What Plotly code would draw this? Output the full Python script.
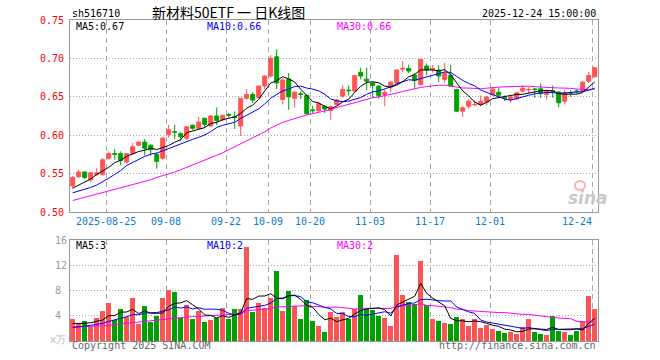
import plotly.graph_objects as go
import pandas as pd

# ---------------- data ----------------
holidays = ["2025-10-01", "2025-10-02", "2025-10-03", "2025-10-06", "2025-10-07", "2025-10-08"]
days = [d.strftime("%Y-%m-%d") for d in pd.bdate_range("2025-08-15", "2025-12-24")
        if d.strftime("%Y-%m-%d") not in holidays]

tick_dates = ["2025-08-25", "2025-09-08", "2025-09-22", "2025-10-09", "2025-10-20",
              "2025-11-03", "2025-11-17", "2025-12-01", "2025-12-24"]
tick_labels = ["2025-08-25", "09-08", "09-22", "10-09", "10-20", "11-03", "11-17", "12-01", "12-24"]

open_ = [0.534, 0.546, 0.552, 0.542, 0.549, 0.549, 0.570, 0.576, 0.576, 0.565,
         0.576, 0.587, 0.591, 0.587, 0.575, 0.570, 0.601, 0.6045, 0.602, 0.596,
         0.613, 0.609, 0.622, 0.612, 0.625, 0.620, 0.627, 0.624, 0.612, 0.648,
         0.653, 0.649, 0.664, 0.677, 0.702, 0.6465, 0.673, 0.648, 0.654, 0.652,
         0.633, 0.632, 0.638, 0.632, 0.640, 0.651, 0.6587, 0.6574, 0.682, 0.673,
         0.668, 0.664, 0.653, 0.663, 0.668, 0.686, 0.687, 0.678, 0.666, 0.690,
         0.6857, 0.6848, 0.6726, 0.678, 0.6596, 0.6313, 0.6378, 0.6395, 0.640, 0.643,
         0.653, 0.656, 0.6487, 0.6465, 0.6474, 0.6574, 0.6591, 0.660, 0.6604, 0.653,
         0.6578, 0.6561, 0.6443, 0.6556, 0.6574, 0.6574, 0.6704, 0.6761]
high = [0.547, 0.555, 0.553, 0.552, 0.557, 0.570, 0.579, 0.582, 0.579, 0.577,
        0.590, 0.592, 0.595, 0.588, 0.577, 0.598, 0.6135, 0.6135, 0.604, 0.612,
        0.614, 0.624, 0.623, 0.626, 0.636, 0.626, 0.629, 0.631, 0.648, 0.660,
        0.656, 0.664, 0.678, 0.704, 0.712, 0.674, 0.681, 0.657, 0.657, 0.652,
        0.638, 0.6435, 0.639, 0.639, 0.6474, 0.6648, 0.6648, 0.678, 0.688, 0.688,
        0.669, 0.6648, 0.6596, 0.6704, 0.6857, 0.6965, 0.692, 0.681, 0.6996, 0.6935,
        0.6913, 0.6913, 0.6943, 0.6913, 0.6604, 0.6378, 0.6474, 0.6457, 0.6517, 0.6517,
        0.6626, 0.6617, 0.6517, 0.6517, 0.657, 0.6648, 0.6626, 0.6617, 0.6674, 0.6587,
        0.6648, 0.6574, 0.6587, 0.6587, 0.6596, 0.6704, 0.6822, 0.6887]
low = [0.531, 0.544, 0.543, 0.539, 0.547, 0.547, 0.568, 0.568, 0.561, 0.563,
       0.575, 0.586, 0.5735, 0.5735, 0.5565, 0.568, 0.5965, 0.595, 0.592, 0.594,
       0.607, 0.607, 0.610, 0.611, 0.613, 0.618, 0.623, 0.608, 0.599, 0.6465,
       0.642, 0.648, 0.660, 0.675, 0.660, 0.640, 0.633, 0.636, 0.647, 0.627,
       0.628, 0.630, 0.629, 0.620, 0.6387, 0.6487, 0.6517, 0.656, 0.6726, 0.6587,
       0.6487, 0.6474, 0.6378, 0.656, 0.666, 0.682, 0.681, 0.6596, 0.6648, 0.6778,
       0.6813, 0.6696, 0.6683, 0.663, 0.630, 0.6235, 0.6343, 0.6378, 0.6378, 0.6387,
       0.6509, 0.6509, 0.6443, 0.6422, 0.6465, 0.6552, 0.6539, 0.6487, 0.6487, 0.6465,
       0.6487, 0.6365, 0.640, 0.650, 0.6539, 0.6561, 0.6683, 0.6748]
close = [0.545, 0.552, 0.545, 0.551, 0.551, 0.568, 0.576, 0.575, 0.567, 0.576,
         0.585, 0.591, 0.583, 0.581, 0.566, 0.596, 0.607, 0.604, 0.598, 0.611,
         0.609, 0.617, 0.614, 0.625, 0.619, 0.626, 0.626, 0.623, 0.648, 0.653,
         0.6457, 0.664, 0.677, 0.700, 0.668, 0.672, 0.650, 0.656, 0.653, 0.628,
         0.632, 0.641, 0.634, 0.637, 0.6457, 0.6596, 0.658, 0.6778, 0.677, 0.6704,
         0.6648, 0.6517, 0.656, 0.669, 0.6848, 0.687, 0.6835, 0.6713, 0.6987, 0.6848,
         0.6865, 0.677, 0.6804, 0.664, 0.6313, 0.6357, 0.6443, 0.640, 0.6443, 0.6496,
         0.660, 0.6522, 0.6483, 0.6496, 0.6552, 0.6609, 0.6596, 0.6596, 0.6543, 0.6574,
         0.6574, 0.6422, 0.6552, 0.6552, 0.6570, 0.6691, 0.6778, 0.6878]
volume = [3.47, 2.67, 3.15, 2.4, 3.68, 4.75, 6.03, 3.3, 5.07, 3.84,
          6.83, 2.67, 5.55, 3.04, 3.95, 6.83, 8.1, 7.79, 3.57, 5.71,
          3.47, 4.8, 2.99, 3.31, 3.68, 5.23, 3.47, 5.07, 5.0, 14.83,
          4.64, 6.03, 5.17, 6.83, 11.15, 4.75, 8.0, 5.55, 3.47, 6.5,
          3.15, 2.35, 1.39, 4.64, 3.79, 4.59, 3.47, 5.01, 7.31, 5.01,
          4.96, 4.0, 3.57, 2.35, 13.6, 7.31, 6.24, 5.92, 12.64, 5.65,
          3.52, 3.2, 2.83, 2.67, 3.84, 3.47, 2.4, 3.52, 2.08, 2.56,
          1.92, 1.55, 1.28, 1.44, 1.12, 2.19, 3.52, 1.39, 1.12, 0.91,
          4.0, 1.6, 1.39, 0.96, 1.6, 3.09, 7.15, 5.07]

# moving-average values at the left edge (their windows start before it)
ma5_head = [0.531, 0.535, 0.539, 0.543]
ma10_head = [0.525, 0.527, 0.529, 0.532, 0.535, 0.539, 0.544, 0.549, 0.554]
ma30_head = [0.515, 0.517, 0.519, 0.521, 0.523, 0.525, 0.527, 0.530, 0.532, 0.534,
             0.536, 0.538, 0.540, 0.542, 0.545, 0.547, 0.550, 0.552, 0.555, 0.558,
             0.561, 0.564, 0.567, 0.570, 0.574, 0.577, 0.581, 0.585, 0.589]
vma5_head = [2.77, 2.77, 2.8, 2.9]
vma10_head = [2.13, 2.2, 2.35, 2.5, 2.6, 2.8, 3.1, 3.3, 3.6]
vma30_head = [2.24, 2.26, 2.28, 2.3, 2.33, 2.4, 2.5, 2.6, 2.7, 2.8,
              2.9, 3.0, 3.1, 3.2, 3.35, 3.5, 3.6, 3.7, 3.75, 3.8,
              3.85, 3.9, 3.95, 4.0, 4.05, 4.1, 4.15, 4.2, 4.3]


def moving_avg(vals, n, head):
    out = list(head)
    for i in range(len(head), len(vals)):
        out.append(sum(vals[i - n + 1:i + 1]) / n)
    return out


ma5 = moving_avg(close, 5, ma5_head)
ma10 = moving_avg(close, 10, ma10_head)
ma30 = moving_avg(close, 30, ma30_head)
vma5 = moving_avg(volume, 5, vma5_head)
vma10 = moving_avg(volume, 10, vma10_head)
vma30 = moving_avg(volume, 30, vma30_head)

# ---------------- styling ----------------
RED = "#ff5454"
GREEN = "#00a000"
GRID = "#a8a8a8"
FRAME = "#999999"
MONO = "DejaVu Sans Mono"
W, H = 660, 360
L, R, T, B = 70, 598, 20, 341


def px(x):
    return (x - L) / (R - L)


def py(y):
    return (B - y) / (B - T)


x = list(range(len(days)))
grid_x = [days.index(d) - 0.37 for d in tick_dates]
vol_colors = [RED if c >= o else GREEN for o, c in zip(open_, close)]

fig = go.Figure()
fig.add_trace(go.Candlestick(
    x=x, open=open_, high=high, low=low, close=close,
    increasing=dict(line=dict(color=RED, width=1), fillcolor=RED),
    decreasing=dict(line=dict(color=GREEN, width=1), fillcolor=GREEN),
    whiskerwidth=0, hoverinfo="skip", showlegend=False, xaxis="x", yaxis="y"))
for ys, col in [(ma30, "#ff00ff"), (ma10, "#0000ff"), (ma5, "#000000")]:
    fig.add_trace(go.Scatter(x=x, y=ys, mode="lines", line=dict(color=col, width=1),
                             hoverinfo="skip", showlegend=False, xaxis="x", yaxis="y"))
fig.add_trace(go.Bar(x=x, y=volume, marker=dict(color=vol_colors, line=dict(width=0)),
                     width=0.8, hoverinfo="skip", showlegend=False, xaxis="x2", yaxis="y2"))
for ys, col in [(vma30, "#ff00ff"), (vma10, "#0000ff"), (vma5, "#000000")]:
    fig.add_trace(go.Scatter(x=x, y=ys, mode="lines", line=dict(color=col, width=1),
                             hoverinfo="skip", showlegend=False, xaxis="x2", yaxis="y2"))

xr = [-0.45, len(days) - 0.45]
common_x = dict(range=xr, showline=True, mirror=True, linecolor=FRAME, linewidth=1,
                tickvals=grid_x, showticklabels=False, ticks="", showgrid=True,
                gridcolor=GRID, griddash="5px,4px", gridwidth=1, zeroline=False, fixedrange=True)

main_bottom = py(212)
vol_top = py(240)

fig.update_layout(
    width=W, height=H,
    margin=dict(l=L, r=W - R, t=T, b=H - B),
    paper_bgcolor="white", plot_bgcolor="white",
    boxgap=0.33, boxgroupgap=0, bargap=0,
    xaxis=dict(domain=[0, 1], anchor="y", rangeslider=dict(visible=False), **common_x),
    xaxis2=dict(domain=[0, 1], anchor="y2", matches="x", **common_x),
    yaxis=dict(domain=[main_bottom, 1], range=[0.50, 0.75],
               tickvals=[0.50, 0.55, 0.60, 0.65, 0.70, 0.75],
               ticktext=["0.50", "0.55", "0.60", "0.65", "0.70", "0.75"],
               tickfont=dict(family=MONO, size=10, color="#ff0000"), ticks="",
               ticklabelstandoff=3,
               showline=True, mirror=True, linecolor=FRAME, linewidth=1,
               showgrid=True, gridcolor=GRID, griddash="1px,2px", zeroline=False, fixedrange=True),
    yaxis2=dict(domain=[0, vol_top], range=[0, 16], tickvals=[4, 8, 12, 16],
                showticklabels=False, ticks="",
                showline=True, mirror=True, linecolor=FRAME, linewidth=1,
                showgrid=True, gridcolor=GRID, griddash="1px,2px", zeroline=False, fixedrange=True),
)

ann = []


def text(xp, yp, s, color="#000000", size=10, family=MONO, xanchor="left", **kw):
    ann.append(dict(x=xp, y=yp, xref="paper", yref="paper", text=s, showarrow=False,
                    xanchor=xanchor, yanchor="middle",
                    font=dict(family=family, size=size, color=color), **kw))


text(px(70), py(13), "sh516710")
text(px(150), py(12.5), "新材料50ETF 一 日K线图", size=14, family="Noto Sans CJK SC")
text(px(598), py(13), "2025-12-24 15:00:00", xanchor="right")

text(px(74), py(26), f"MA5:{ma5[-1]:.2f}", "#000000")
text(px(204.5), py(26), f"MA10:{ma10[-1]:.2f}", "#0000ff")
text(px(334.5), py(26), f"MA30:{ma30[-1]:.2f}", "#ff00ff")

text(px(74), py(245.5), f"MA5:{int(vma5[-1])}", "#000000")
text(px(204.5), py(245.5), f"MA10:{int(vma10[-1])}", "#0000ff")
text(px(334.5), py(245.5), f"MA30:{int(vma30[-1])}", "#ff00ff")

for v in [16, 12, 8, 4]:
    ann.append(dict(x=px(53), y=v, xref="paper", yref="y2", text=str(v), showarrow=False,
                    xanchor="left", yanchor="middle",
                    font=dict(family=MONO, size=10, color="#999999")))
text(px(48), py(339), "x万", "#b8b8b8", size=10)

text(px(70), py(345.5), "Copyright 2025 SINA.COM", "#666666")
text(px(598), py(345.5), "http://finance.sina.com.cn", "#666666", xanchor="right")

for i, (gx, lab) in enumerate(zip(grid_x, tick_labels)):
    last = i == len(grid_x) - 1
    ann.append(dict(x=gx + (0.2 if last else 0), y=py(221), xref="x", yref="paper", text=lab,
                    showarrow=False, xanchor="right" if last else "center", yanchor="middle",
                    font=dict(family=MONO, size=10, color="#0b7dd1")))

# sina watermark
text(px(566), py(198), "<b><i>sina</i></b>", "#c9c9c9", size=17, family="DejaVu Sans")
fig.update_layout(annotations=ann)
fig.add_shape(type="circle", xref="paper", yref="paper",
              x0=px(575), x1=px(585), y0=py(190), y1=py(181),
              line=dict(color="#f3b4b4", width=2))

fig.write_html("out.html", config={"displayModeBar": False, "staticPlot": True},
               post_script="document.body.style.margin='0';document.body.style.overflow='hidden';")
